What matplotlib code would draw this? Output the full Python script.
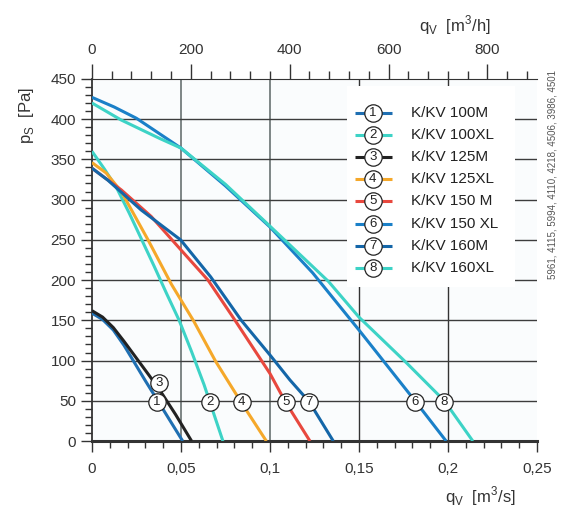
#!/usr/bin/env python3

import numpy as np
import matplotlib
matplotlib.use("Agg")
import matplotlib.pyplot as plt
from matplotlib.patches import Rectangle
from matplotlib.ticker import MultipleLocator, FixedLocator, FuncFormatter

plt.rcParams['font.family'] = ['Liberation Sans', 'DejaVu Sans']
plt.rcParams['mathtext.fontset'] = 'custom'
plt.rcParams['mathtext.rm'] = 'Liberation Sans'

# fan curves, q [m3/s] vs ps [Pa]
names = ["K/KV 100M", "K/KV 100XL", "K/KV 125M", "K/KV 125XL",
         "K/KV 150 M", "K/KV 150 XL", "K/KV 160M", "K/KV 160XL"]
colors = ["#1f6fb2", "#3dd3c6", "#222222", "#f5a82a",
          "#e8483e", "#1a80c8", "#1466a8", "#3dd3c6"]

q1 = [0, 0.006, 0.012, 0.018, 0.0232, 0.03, 0.0373, 0.044, 0.051]
p1 = [159, 151, 138, 119, 100, 75, 49, 25, 0]
q2 = [0, 0.007, 0.014, 0.021, 0.028, 0.035, 0.042, 0.049, 0.056, 0.063, 0.0736]
p2 = [360, 338, 314, 283, 250, 217, 183, 150, 111, 70, 0]
q3 = [0, 0.006, 0.012, 0.018, 0.026, 0.032, 0.0382, 0.047, 0.056]
p3 = [162, 154, 141, 124, 100, 82, 63, 33, 0]
q4 = [0, 0.008, 0.0165, 0.0315, 0.0446, 0.0572, 0.0695, 0.0839, 0.098]
p4 = [346, 333, 310, 250, 195, 149, 99, 48, 0]
q5 = [0, 0.0165, 0.0333, 0.0498, 0.0652, 0.0789, 0.1, 0.1086, 0.1225]
p5 = [339, 312, 279, 238, 200, 155, 84, 49, 0]
q6 = [0, 0.0125, 0.025, 0.05, 0.075, 0.1, 0.124, 0.15, 0.1815, 0.199]
p6 = [427, 415, 401, 364, 317, 266, 209, 138, 50, 0]
q7 = [0, 0.009, 0.0277, 0.0498, 0.0667, 0.0839, 0.1, 0.1112, 0.122, 0.1356]
p7 = [339, 324, 287, 250, 204, 150, 107, 76, 49, 0]
q8 = [0, 0.0163, 0.038, 0.05, 0.075, 0.1, 0.133, 0.15, 0.1768, 0.198, 0.214]
p8 = [420, 399, 376, 364, 319, 267, 198, 154, 97, 50, 0]

curves = [(q1, p1), (q2, p2), (q3, p3), (q4, p4),
          (q5, p5), (q6, p6), (q7, p7), (q8, p8)]

# numbered markers sitting on the curves
label_q = [0.0363, 0.0663, 0.0378, 0.0841, 0.1088, 0.1815, 0.1219, 0.1978]
label_p = [49, 49, 72, 49, 49, 49, 49, 49]

top_ticks = [0, 200, 400, 600, 800]

code_text = "5961, 4115, 5994, 4110, 4218, 4506, 3986, 4501"

fig = plt.figure(figsize=(5.64, 5.22), dpi=100)
ax = fig.add_axes([0.163, 0.155, 0.789, 0.694])
ax.set_facecolor("#fafcfd")

ax.set_xlim(0, 0.25)
ax.set_ylim(0, 450)

# grid
for x in [0.05, 0.1]:
    ax.axvline(x, color="#7d8585", lw=1.4, zorder=1)
for x in [0.15, 0.2]:
    ax.axvline(x, color="#333333", lw=1.0, zorder=1)
for y in range(50, 450, 50):
    ax.axhline(y, color="#3c3c3c", lw=1.0, zorder=1)

# legend background hides the grid
ax.add_patch(Rectangle((0.573, 0.425), 0.378, 0.556, transform=ax.transAxes,
                       facecolor="white", edgecolor="none", zorder=2))

for i, (q, p) in enumerate(curves):
    ax.plot(q, p, color=colors[i], lw=2.2, zorder=3, solid_capstyle="butt",
            solid_joinstyle="round")

for i in range(8):
    ax.plot(label_q[i], label_p[i], "o", ms=12.5, mfc="white", mec="#222222",
            mew=0.9, zorder=5)
    ax.text(label_q[i], label_p[i], str(i + 1), ha="center", va="center",
            fontsize=9.5, color="#222222", zorder=6)

# legend
for i in range(8):
    yy = (441 - (112.7 + i * 22.2)) / 362.0
    ax.plot([0.591, 0.631, 0.674], [yy, yy, yy], color=colors[i], lw=2.2,
            transform=ax.transAxes, zorder=4, solid_capstyle="butt")
    ax.plot(0.631, yy, "o", ms=12.5, mfc="white", mec="#222222", mew=0.9,
            transform=ax.transAxes, zorder=5)
    ax.text(0.631, yy, str(i + 1), ha="center", va="center", fontsize=9.5,
            color="#222222", transform=ax.transAxes, zorder=6)
    ax.text(0.717, yy, names[i], ha="left", va="center", fontsize=11,
            color="#222222", transform=ax.transAxes, zorder=6)

# axes and ticks
ax.spines["right"].set_visible(False)
ax.spines["top"].set_color("#333333")
ax.spines["left"].set_color("#333333")
ax.spines["left"].set_linewidth(1.3)
ax.spines["bottom"].set_color("#333333")
ax.spines["bottom"].set_linewidth(2.2)

ax.xaxis.set_major_locator(MultipleLocator(0.05))
ax.xaxis.set_minor_locator(MultipleLocator(0.01))
ax.yaxis.set_major_locator(MultipleLocator(50))
ax.yaxis.set_minor_locator(MultipleLocator(10))
ax.xaxis.set_major_formatter(FuncFormatter(lambda v, pos: ("%g" % round(v, 3)).replace(".", ",")))
ax.tick_params(axis="both", which="major", direction="out", length=8, width=1.0,
               color="#333333", labelsize=11, labelcolor="#333333")
ax.tick_params(axis="both", which="minor", direction="out", length=5, width=1.0,
               color="#333333")
ax.tick_params(axis="x", which="major", pad=7)

top = ax.secondary_xaxis("top", functions=(lambda v: v * 3600, lambda v: v / 3600))
top.xaxis.set_major_locator(FixedLocator(top_ticks))
top.xaxis.set_minor_locator(FixedLocator(list(range(0, 900, 40))))
top.tick_params(axis="x", which="major", direction="out", length=11, width=1.0,
                color="#333333", labelsize=11, labelcolor="#333333", pad=5)
top.tick_params(axis="x", which="minor", direction="out", length=6, width=1.0,
                color="#333333")
top.spines["top"].set_visible(False)

ax.set_ylabel(r"p$_\mathregular{S}$  [Pa]", fontsize=12, color="#333333")
ax.yaxis.set_label_coords(-0.125, 0.9)
ax.text(0.872, -0.152, r"q$_\mathregular{V}$  [m$^\mathregular{3}$/s]", transform=ax.transAxes,
        ha="center", va="center", fontsize=12, color="#333333")
ax.text(0.816, 1.149, r"q$_\mathregular{V}$  [m$^\mathregular{3}$/h]", transform=ax.transAxes,
        ha="center", va="center", fontsize=12, color="#333333")

fig.text(0.979, 0.665, code_text, rotation=90, ha="center", va="center",
         fontsize=7, color="#555555")

fig.savefig("out.png", dpi=100)
